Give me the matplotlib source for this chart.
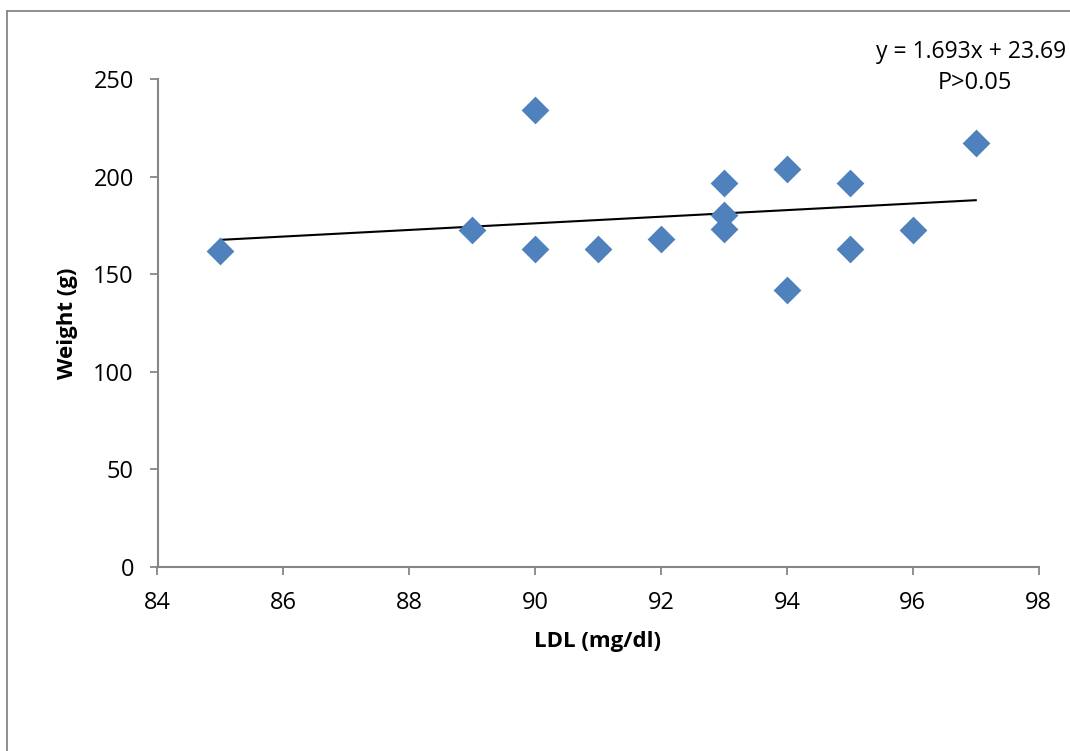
import matplotlib
matplotlib.use("Agg")
import matplotlib.pyplot as plt
from matplotlib.lines import Line2D
import numpy as np

plt.rcParams['font.family'] = ['Open Sans', 'DejaVu Sans']

# данные
ldl = [85, 89, 90, 90, 91, 92, 93, 93, 93, 94, 94, 95, 95, 96, 97]
weight = [162.0, 172.5, 234.0, 162.7, 162.7, 168.0, 196.7, 180.3, 173.0,
          203.7, 141.9, 196.7, 163.1, 172.8, 217.4]
slope = 1.693
intercept = 23.69
eq_text = "y = 1.693x + 23.69"
p_text = "P>0.05"
x_ticks = [84, 86, 88, 90, 92, 94, 96, 98]
y_ticks = [0, 50, 100, 150, 200, 250]

W, H = 1070, 751
fig = plt.figure(figsize=(W / 100, H / 100), dpi=100)
ax = fig.add_axes([157.5 / W, (H - 567) / H, (1038.7 - 157.5) / W, (567 - 79) / H])

grey = '#868686'

# рамка диаграммы
fig.add_artist(Line2D([7 / W, 7 / W], [0, (H - 11) / H], color=grey, lw=1.3))
fig.add_artist(Line2D([7 / W, 1], [(H - 11) / H, (H - 11) / H], color=grey, lw=1.3))

ax.scatter(ldl, weight, marker='D', s=200, color='#4F81BD', zorder=3, linewidths=0)

xs = np.array([min(ldl), max(ldl)])
ax.plot(xs, slope * xs + intercept, color='black', lw=1.5, zorder=2)

ax.set_xlim(84, 98)
ax.set_ylim(0, 250)
ax.set_xticks(x_ticks)
ax.set_yticks(y_ticks)
ax.tick_params(direction='out', length=6, width=1.3, color=grey, labelsize=17)
ax.tick_params(axis='y', pad=11)
ax.tick_params(axis='x', pad=11)

for side in ['top', 'right']:
    ax.spines[side].set_visible(False)
for side in ['left', 'bottom']:
    ax.spines[side].set_color(grey)
    ax.spines[side].set_linewidth(1.5)

fig.text(598 / W, (H - 641) / H, "LDL (mg/dl)", ha='center', va='center',
         fontsize=16, fontweight='bold')
fig.text(67 / W, (H - 323) / H, "Weight (g)", ha='center', va='center',
         rotation=90, fontsize=16, fontweight='bold')

# уравнение тренда
fig.text(1066 / W, (H - 52) / H, eq_text, ha='right', va='center', fontsize=16.5)
fig.text(975 / W, (H - 83) / H, p_text, ha='center', va='center', fontsize=17)

fig.savefig("out.png", dpi=100)
